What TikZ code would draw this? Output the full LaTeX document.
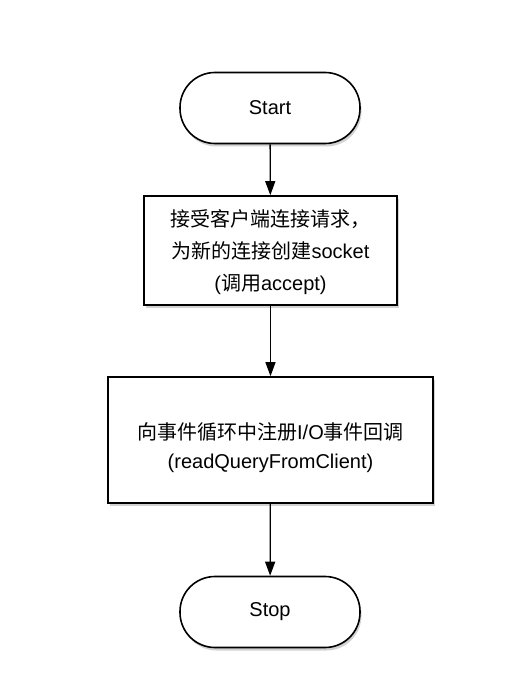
\documentclass[tikz,border=0pt]{standalone}
\usepackage{fontspec}
\setmainfont{Liberation Sans}
\newfontfamily\cjk{Noto Sans CJK SC}
\usepackage[rgb]{xcolor}
\usepackage{tikz}
\usetikzlibrary{arrows.meta,shadows}

\begin{document}
\begin{tikzpicture}[x=1pt, y=-1pt,
  terminal/.style={rectangle, draw=black, line width=1.6pt, fill=white,
    minimum width=180pt, minimum height=71pt, rounded corners=35pt,
    drop shadow={shadow xshift=1.5pt, shadow yshift=-3pt, opacity=0.35}},
  procbox/.style={rectangle, draw=black, line width=1.6pt, fill=white, align=center,
    drop shadow={shadow xshift=1.5pt, shadow yshift=-3pt, opacity=0.35}},
  flow/.style={line width=1.3pt, -{Triangle[width=10pt,length=14pt]}},
  font=\fontsize{20}{32}\selectfont]

% page frame, white as in the picture
\useasboundingbox[fill=white] (0,0) rectangle (520,700);

% Start, accept the connection, register the event, Stop
\path
(270,108) node[terminal] (start) {Start}
(270.5,250.5) node[procbox, minimum width=253pt, minimum height=109pt] (accept)
  {\rule{0pt}{20pt}{\cjk 接受客户端连接请求，}\\ {\cjk 为新的连接创建}socket\\ ({\cjk 调用}accept)}
(270.5,440) node[procbox, minimum width=325pt, minimum height=126pt] (register)
  {\rule{0pt}{33pt}{\cjk 向事件循环中注册}I/O{\cjk 事件回调}\\[-3pt] (readQueryFromClient)};
\path
(270,612) node[terminal] (stop) {Stop};

\draw[flow] (start) -- (accept);
\draw[flow] (accept) -- (register);
\draw[flow] (register) -- (stop);

\end{tikzpicture}
\end{document}
